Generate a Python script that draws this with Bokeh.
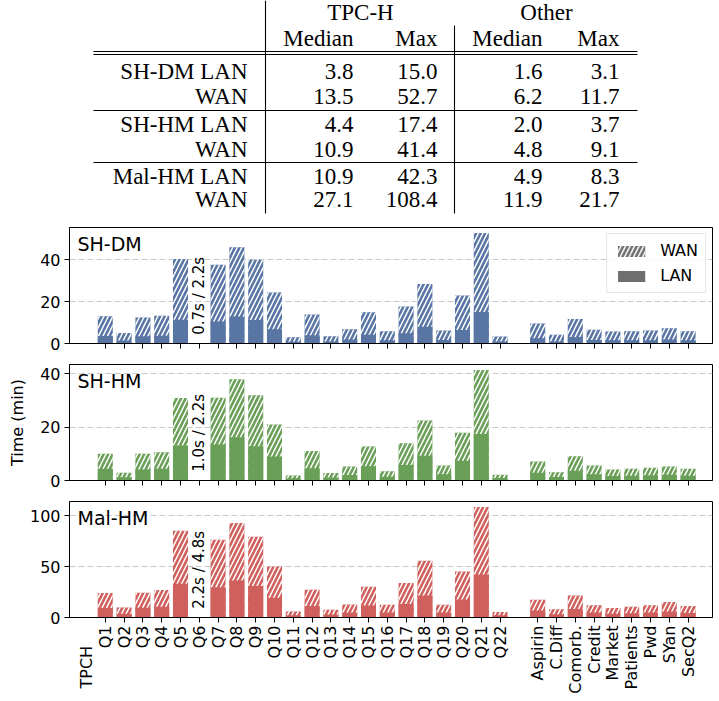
import numpy as np
from bokeh.plotting import figure
from bokeh.layouts import column
from bokeh.models import (ColumnDataSource, Range1d, FixedTicker, Label,
                          Legend, LegendItem)
from bokeh.core.properties import value
from bokeh.embed import file_html
from bokeh.resources import INLINE

# ------------------------------------------------------------------ data
table_rows = ["SH-DM LAN", "WAN", "SH-HM LAN", "WAN", "Mal-HM LAN", "WAN"]
table_groups = ["TPC-H", "Other"]
table_cols = ["Median", "Max", "Median", "Max"]
tpch_median = [3.8, 13.5, 4.4, 10.9, 10.9, 27.1]
tpch_max = [15.0, 52.7, 17.4, 41.4, 42.3, 108.4]
other_median = [1.6, 6.2, 2.0, 4.8, 4.9, 11.9]
other_max = [3.1, 11.7, 3.7, 9.1, 8.3, 21.7]

query_names = ["Q%d" % i for i in range(1, 23)]
other_names = ["Aspirin", "C.Diff", "Comorb.", "Credit", "Market",
               "Patients", "Pwd", "SYan", "SecQ2"]
query_pos = list(range(1, 23))
other_pos = list(range(24, 33))
group_label = "TPCH"
group_pos = 0

panel_names = ["SH-DM", "SH-HM", "Mal-HM"]
# Q6 runtimes in seconds (LAN, WAN)
q6_lan_sec = [0.7, 1.0, 2.2]
q6_wan_sec = [2.2, 2.2, 4.8]

# minutes; Q6 slot holds None and is filled from the seconds above
shdm_wan = [13.0, 5.0, 12.4, 13.2, 40.3, None, 37.6, 45.9, 40.0, 24.3, 3.0,
            13.8, 3.5, 6.8, 14.9, 5.9, 17.6, 28.4, 6.2, 22.9, 52.7, 3.3,
            9.5, 4.2, 11.7, 6.6, 5.7, 5.8, 6.2, 7.3, 5.9]
shdm_lan = [3.6, 1.4, 3.5, 3.7, 11.3, None, 10.5, 12.9, 11.2, 6.8, 0.8,
            3.9, 1.0, 1.9, 4.2, 1.6, 4.9, 8.0, 1.7, 6.4, 15.0, 0.9,
            2.5, 1.0, 3.1, 1.7, 1.5, 1.5, 1.6, 1.9, 1.5]
shhm_wan = [10.0, 2.9, 10.0, 10.6, 30.9, None, 31.0, 37.9, 31.9, 21.0, 1.9,
            11.1, 2.8, 5.2, 12.7, 3.5, 14.0, 22.5, 5.6, 17.9, 41.4, 2.2,
            7.1, 3.1, 9.1, 5.6, 4.1, 4.4, 4.8, 5.2, 4.4]
shhm_lan = [4.4, 1.2, 4.1, 4.4, 13.1, None, 13.5, 16.2, 12.8, 9.0, 0.8,
            4.6, 1.1, 2.1, 5.3, 1.4, 5.8, 9.3, 2.3, 7.4, 17.4, 0.9,
            2.9, 1.3, 3.7, 2.3, 1.7, 1.8, 2.0, 2.2, 1.8]
malhm_wan = [24.0, 9.8, 24.3, 27.0, 85.2, None, 76.4, 92.8, 79.3, 50.1, 5.9,
             27.2, 7.6, 12.8, 30.2, 12.4, 33.8, 55.7, 12.6, 45.2, 108.4, 5.3,
             17.4, 8.2, 21.7, 11.9, 9.2, 10.5, 12.0, 15.1, 11.2]
malhm_lan = [9.4, 3.8, 9.5, 10.6, 33.2, None, 29.8, 36.2, 30.9, 19.5, 2.3,
             11.2, 3.0, 5.0, 11.8, 4.8, 13.2, 21.7, 4.9, 17.6, 42.3, 2.1,
             6.8, 3.2, 8.3, 5.0, 3.6, 4.1, 4.9, 5.9, 4.5]

panel_colors = ["#5875a4", "#6a9f58", "#d0605e"]
y_ticks = [[0, 20, 40], [0, 20, 40], [0, 50, 100]]

# ------------------------------------------------------------------ style
SANS = "DejaVu Sans"
SERIF = "Liberation Serif"
FONT = "16px"
BORDER_L, FRAME_W, BORDER_R = 69, 643, 5
FRAME_H = 116
X_LO = -0.904
X_HI = X_LO + FRAME_W / 18.8
HATCH = dict(hatch_pattern="/", hatch_color="white", hatch_scale=9,
             hatch_weight=1.5)

# ------------------------------------------------------------------ table
TABLE_H = 220
tp = figure(frame_width=FRAME_W, frame_height=TABLE_H,
            x_range=Range1d(BORDER_L, BORDER_L + FRAME_W),
            y_range=Range1d(TABLE_H, 0), output_backend="svg",
            toolbar_location=None, min_border_left=BORDER_L,
            min_border_right=BORDER_R, min_border_top=0, min_border_bottom=0,
            x_axis_type=None, y_axis_type=None, outline_line_color=None)

col_right = [353, 437, 542, 619]
row_y = [71, 96, 124, 149, 176, 199]
tfont = value(SERIF)
tsize = value("23px")

tp.text(x=[360, 546], y=[12, 12], text=table_groups, text_font=tfont,
        text_font_size=tsize, text_align="center", text_baseline="middle")
tp.text(x=col_right, y=[38] * 4, text=table_cols, text_font=tfont,
        text_font_size=tsize, text_align="right", text_baseline="middle")
tp.text(x=[247] * 6, y=row_y, text=table_rows, text_font=tfont,
        text_font_size=tsize, text_align="right", text_baseline="middle")
for cx, vals in zip(col_right, [tpch_median, tpch_max, other_median, other_max]):
    tp.text(x=[cx] * len(vals), y=row_y, text=["%.1f" % v for v in vals],
            text_font=tfont, text_font_size=tsize, text_align="right",
            text_baseline="middle")
# rules
tp.segment(x0=[93, 93, 93, 93, 265, 454], y0=[51, 54, 110, 162, 0, 25],
           x1=[637, 637, 637, 637, 265, 454], y1=[51, 54, 110, 162, 213, 213],
           line_color="black", line_width=1.1)

# ------------------------------------------------------------------ panels
wan_all = [shdm_wan, shhm_wan, malhm_wan]
lan_all = [shdm_lan, shhm_lan, malhm_lan]
borders = [(7, 10), (11, 10), (11, 82)]
positions = query_pos + other_pos
names = query_names + other_names
panels = []

for k in range(3):
    wan = list(wan_all[k])
    lan = list(lan_all[k])
    wan[5] = q6_wan_sec[k] / 60.0
    lan[5] = q6_lan_sec[k] / 60.0
    ymax = max(wan) * 1.05
    bt, bb = borders[k]
    p = figure(frame_width=FRAME_W, frame_height=FRAME_H,
               x_range=Range1d(X_LO, X_HI), y_range=Range1d(0, ymax),
               output_backend="svg", toolbar_location=None,
               min_border_left=BORDER_L, min_border_right=BORDER_R,
               min_border_top=bt, min_border_bottom=bb)
    src = ColumnDataSource(dict(x=positions, wan=wan, lan=lan))
    p.vbar(x="x", top="wan", width=0.8, source=src, fill_color=panel_colors[k],
           line_color=None, **HATCH)
    p.vbar(x="x", top="lan", width=0.8, source=src, fill_color=panel_colors[k],
           line_color=None)

    # frame & grid
    p.xgrid.visible = False
    p.ygrid.grid_line_color = "#c8c8c8"
    p.ygrid.grid_line_dash = "6 3"
    p.ygrid.grid_line_width = 1
    p.outline_line_color = "black"
    p.outline_line_alpha = 1
    p.outline_line_width = 1

    # y axis
    p.yaxis.ticker = FixedTicker(ticks=y_ticks[k])
    p.yaxis.major_label_text_font = SANS
    p.yaxis.major_label_text_font_size = FONT
    p.yaxis.major_label_text_color = "black"
    p.yaxis.major_tick_out = 5
    p.yaxis.major_tick_in = 0
    p.yaxis.minor_tick_line_color = None
    p.yaxis.axis_line_color = "black"
    p.yaxis.major_label_standoff = 4

    # x axis: minor ticks carry the tick marks, major ticks carry labels
    p.xaxis.minor_tick_line_color = "black"
    p.xaxis.minor_tick_out = 5
    p.xaxis.minor_tick_in = 0
    p.xaxis.major_tick_line_color = None
    p.xaxis.major_tick_in = 0
    p.xaxis.axis_line_color = "black"
    if k < 2:
        p.xaxis.ticker = FixedTicker(ticks=[], minor_ticks=positions)
        p.xaxis.major_tick_out = 0
        p.xaxis.major_label_standoff = 0
    else:
        p.xaxis.ticker = FixedTicker(ticks=[group_pos] + positions,
                                     minor_ticks=positions)
        overrides = {pos: nm for pos, nm in zip(positions, names)}
        overrides[group_pos] = group_label + "\u00a0" * 4
        p.xaxis.major_label_overrides = overrides
        p.xaxis.major_tick_out = 5
        p.xaxis.major_label_text_font = SANS
        p.xaxis.major_label_text_color = "black"
        p.xaxis.major_label_text_font_size = FONT
        p.xaxis.major_label_orientation = np.pi / 2
        p.xaxis.major_label_standoff = 3

    # panel name
    p.add_layout(Label(x=X_LO + 8 / 18.8, y=ymax * (1 - 5.0 / FRAME_H),
                       text=panel_names[k], text_font=SANS,
                       text_font_size="19px", text_baseline="top",
                       text_align="left", text_color="black"))
    # Q6 annotation
    p.text(x=[6], y=[ymax * 0.075],
           text=["%.1fs / %.1fs" % (q6_lan_sec[k], q6_wan_sec[k])],
           angle=np.pi / 2, text_font=value(SANS), text_font_size=value("15px"),
           text_align="left", text_baseline="middle", text_color="black")
    panels.append(p)

# y-axis title on the middle panel
panels[1].yaxis.axis_label = "Time (min)"
panels[1].yaxis.axis_label_text_font = SANS
panels[1].yaxis.axis_label_text_font_size = FONT
panels[1].yaxis.axis_label_text_font_style = "normal"
panels[1].yaxis.axis_label_text_color = "black"
panels[1].yaxis.axis_label_standoff = 10

# legend on the first panel
leg_src = ColumnDataSource(dict(x=[np.nan], top=[np.nan]))
r_wan = panels[0].vbar(x="x", top="top", width=0.8, source=leg_src,
                       fill_color="#6e6e6e", line_color=None, **HATCH)
r_lan = panels[0].vbar(x="x", top="top", width=0.8, source=leg_src,
                       fill_color="#6e6e6e", line_color=None)
legend = Legend(items=[LegendItem(label="WAN", renderers=[r_wan], index=0),
                       LegendItem(label="LAN", renderers=[r_lan], index=0)],
                location="top_right", label_text_font=SANS,
                label_text_font_size="16px", label_text_color="black",
                glyph_width=34, glyph_height=14,
                label_standoff=12, spacing=6, padding=7, margin=6,
                border_line_color="#cccccc", border_line_width=1,
                background_fill_alpha=0.85)
panels[0].add_layout(legend)

layout = column(tp, *panels)
open("out.html", "w").write(file_html(layout, INLINE))
